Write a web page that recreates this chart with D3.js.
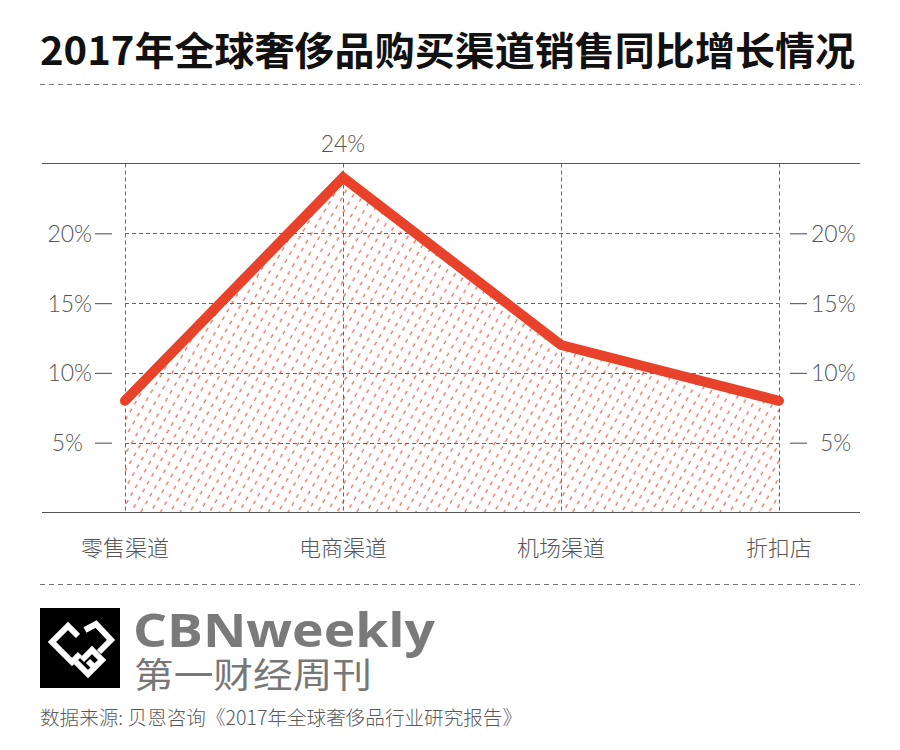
<!DOCTYPE html>
<html><head><meta charset="utf-8">
<script src="https://cdn.jsdelivr.net/npm/d3@7"></script>
<style>
body{margin:0;background:#fff;}
svg{display:block;}
</style></head>
<body>
<script>
const categories = ["零售渠道","电商渠道","机场渠道","折扣店"];
const values = [8, 24, 12, 8];
const tickValues = [5, 10, 15, 20];
const peakLabel = "24%";
const title = "2017年全球奢侈品购买渠道销售同比增长情况";
const source = "数据来源: 贝恩咨询《2017年全球奢侈品行业研究报告》";

const W = 900, H = 750;
const svg = d3.select("body").append("svg").attr("width", W).attr("height", H);
const red = "#e8432a";
const grey = "#555";

// defs: hatch pattern
const defs = svg.append("defs");
const pat = defs.append("pattern").attr("id","hatch").attr("patternUnits","userSpaceOnUse")
  .attr("width", 8.5).attr("height", 9).attr("patternTransform","rotate(30)");
pat.append("line").attr("x1",4).attr("x2",4).attr("y1",0).attr("y2",4)
  .attr("stroke", red).attr("stroke-width",1);

// title
svg.append("text").attr("x",40).attr("y",65).text(title)
  .attr("font-family","'Noto Sans CJK SC', sans-serif").attr("font-weight",700)
  .attr("font-size",39).attr("fill","#111").attr("textLength",815).attr("lengthAdjust","spacingAndGlyphs");

svg.append("line").attr("x1",40).attr("x2",860).attr("y1",84.5).attr("y2",84.5)
  .attr("stroke","#777").attr("stroke-dasharray","5,4");
svg.append("line").attr("x1",40).attr("x2",860).attr("y1",584.5).attr("y2",584.5)
  .attr("stroke","#777").attr("stroke-dasharray","5,4");

// scales
const x = d3.scalePoint().domain(categories).range([125, 779]);
const y = d3.scaleLinear().domain([0, 25]).range([512.5, 163.5]);

const g = svg.append("g");

// area with hatch
const area = d3.area().x((d,i)=>x(categories[i])).y0(y(0)).y1(d=>y(d));
g.append("path").datum(values).attr("d", area).attr("fill","url(#hatch)");

// horizontal grid
g.selectAll(".hg").data(tickValues).join("line")
  .attr("x1", x(categories[0])).attr("x2", x(categories[categories.length-1]))
  .attr("y1", d=>Math.round(y(d))+0.5).attr("y2", d=>Math.round(y(d))+0.5)
  .attr("stroke","#666").attr("stroke-dasharray","4,3");
// vertical grid
g.selectAll(".vg").data(categories).join("line")
  .attr("x1", d=>Math.round(x(d))+0.5).attr("x2", d=>Math.round(x(d))+0.5)
  .attr("y1", y(25)).attr("y2", y(0))
  .attr("stroke","#666").attr("stroke-dasharray","4,3");

// top & bottom solid lines
g.append("line").attr("x1",42).attr("x2",860).attr("y1",y(25)).attr("y2",y(25)).attr("stroke",grey).attr("stroke-width",1);
g.append("line").attr("x1",42).attr("x2",860).attr("y1",y(0)).attr("y2",y(0)).attr("stroke",grey).attr("stroke-width",1.2);

// line
const line = d3.line().x((d,i)=>x(categories[i])).y(d=>y(d));
g.append("path").datum(values).attr("d", line).attr("fill","none")
  .attr("stroke", red).attr("stroke-width",10).attr("stroke-linecap","round").attr("stroke-linejoin","miter");

// axes
const fmt = d=>d+"%";
const axL = svg.append("g").attr("transform","translate(112,0)")
  .call(d3.axisLeft(y).tickValues(tickValues).tickSize(17).tickPadding(3).tickFormat(fmt));
const axR = svg.append("g").attr("transform","translate(790,0)")
  .call(d3.axisRight(y).tickValues(tickValues).tickSize(17).tickPadding(4).tickFormat(fmt));
[axL, axR].forEach(a=>{
  a.select(".domain").remove();
  a.selectAll(".tick line").attr("stroke","#666").attr("stroke-width",1.2);
  a.selectAll(".tick text").attr("font-family","Lato, 'Open Sans', sans-serif").attr("font-weight",300)
    .attr("font-size",23).attr("fill",grey).attr("dy","0.35em");
});
axL.selectAll(".tick text").filter(d=>d<10).attr("dx",-9);
axR.selectAll(".tick text").filter(d=>d<10).attr("dx",9);

// category labels
svg.selectAll(".cat").data(categories).join("text")
  .attr("x", d=>x(d)).attr("y", 556).attr("text-anchor","middle").text(d=>d)
  .attr("font-family","'Noto Sans CJK SC', sans-serif").attr("font-weight",300)
  .attr("font-size",22).attr("fill",grey);

// peak label
const imax = d3.maxIndex(values);
svg.append("text").attr("x", x(categories[imax])).attr("y", 152).attr("text-anchor","middle")
  .text(peakLabel).attr("font-family","Lato, 'Open Sans', sans-serif").attr("font-weight",300)
  .attr("font-size",23).attr("fill",grey);

// logo
const logo = svg.append("g");
logo.append("rect").attr("x",40).attr("y",608).attr("width",80).attr("height",80).attr("fill","#000");
const lw = 6;
const lg = logo.append("g").attr("fill","none").attr("stroke","#fff").attr("stroke-width",lw).attr("stroke-linejoin","miter");
lg.append("path").attr("d","M78,636 L68,626 L52,642 L72,662 L80,654");
lg.append("path").attr("d","M85,630 L96,624 L111,640 L99,652");
lg.append("path").attr("d","M76,662 L88,674 L102,660 L92,650 L82,660 M88,661 L95,668");

svg.append("text").attr("x",133).attr("y",647).text("CBNweekly")
  .attr("font-family","'Open Sans', sans-serif").attr("font-weight",700).attr("font-size",47)
  .attr("fill","#7a7a7a").attr("textLength",302).attr("lengthAdjust","spacingAndGlyphs");
svg.append("text").attr("x",134).attr("y",688).text("第一财经周刊")
  .attr("font-family","'Noto Sans CJK SC', sans-serif").attr("font-weight",400).attr("font-size",35)
  .attr("fill","#777").attr("textLength",238).attr("lengthAdjust","spacingAndGlyphs");

svg.append("text").attr("x",40).attr("y",725).text(source)
  .attr("font-family","'Noto Sans CJK SC', sans-serif").attr("font-weight",300).attr("font-size",19.5)
  .attr("fill","#5a5a5a").attr("textLength",482).attr("lengthAdjust","spacingAndGlyphs");
</script>
</body></html>
